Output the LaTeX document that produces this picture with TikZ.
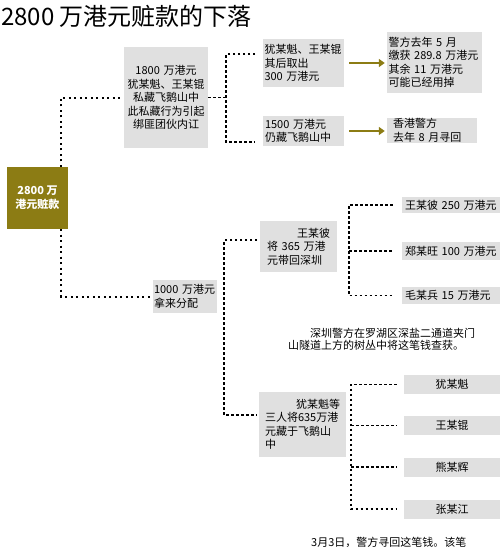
\documentclass[tikz,border=0pt]{standalone}
\usepackage{fontspec}
\setmainfont{Noto Sans CJK SC}
\usepackage{xcolor}
\usetikzlibrary{arrows.meta, positioning, calc}
\definecolor{olivebrown}{RGB}{140,124,20}
\definecolor{boxgray}{RGB}{224,224,224}
\tikzset{
  gbox/.style={fill=boxgray, inner xsep=2pt, inner ysep=1pt, font=\fontsize{11}{13.5}\selectfont},
  link/.style={line width=1.4pt, dash pattern=on 2.5pt off 2.5pt},
  srclink/.style={line width=2pt, dash pattern=on 2pt off 3.5pt},
  goldarrow/.style={olivebrown, line width=2.2pt, -{Triangle[length=6pt,width=8pt]}},
}
\begin{document}
\begin{tikzpicture}[x=1pt, y=-1pt]
  \useasboundingbox (0,0) rectangle (500,547);
  % title
  \node[anchor=west, inner sep=0pt, font=\fontsize{24}{26}\selectfont] (title) at (1,16) {2800 万港元赃款的下落};
  % source box
  \node[fill=olivebrown, text=white, font=\fontsize{11}{14}\selectfont\bfseries, align=center,
        minimum width=61pt, minimum height=62pt, inner sep=0pt] (src) at (37.5,198) {2800 万\\港元赃款};
  % upper branch (1800)
  \node[gbox, align=center, text width=80pt, minimum height=101pt] (b1800) at (166,97.5)
    {1800 万港元\\犹某魁、王某锟\\私藏飞鹅山中\\此私藏行为引起\\绑匪团伙内讧};
  \node[gbox, align=left, text width=78pt, inner xsep=1.5pt, minimum height=48pt] (b300) at (303.5,63)
    {犹某魁、王某锟\\其后取出\\300 万港元};
  \node[gbox, align=left, text width=92pt, inner xsep=1.5pt, minimum height=61pt] (bseized) at (434.5,62.5)
    {警方去年 5 月\\缴获 289.8 万港元\\其余 11 万港元\\可能已经用掉};
  \node[gbox, align=left, text width=77pt, minimum height=30pt] (b1500) at (303.5,131)
    {1500 万港元\\仍藏飞鹅山中};
  \node[gbox, align=left, inner xsep=6pt, text width=78pt, minimum height=25pt] (bhk) at (432,130.5)
    {香港警方\\去年 8 月寻回};
  \draw[goldarrow] ([xshift=5pt]b300.east) -- ([xshift=-2pt]bseized.west |- b300.east);
  \draw[goldarrow] ([xshift=5pt]b1500.east) -- ([xshift=-2pt]bhk.west |- b1500.east);
  % lower branch (1000)
  \node[gbox, align=left, inner xsep=1pt, text width=62pt, minimum height=33pt] (b1000) at (185,296.5)
    {1000 万港元\\拿来分配};
  \node[gbox, align=left, inner xsep=7pt, text width=63pt, minimum height=51pt] (b365) at (298.5,246.5)
    {\hfill 王某彼\\将 365 万港\\元带回深圳};
  \foreach \nm/\y/\h/\txt in {p250/205/16/王某彼 250 万港元, p100/251/18/郑某旺 100 万港元, p15/295.5/17/毛某兵 15 万港元}
    \node[gbox, align=left, inner xsep=3pt, text width=92pt, minimum height=\h pt] (\nm) at (451,\y) {\txt};
  \node[gbox, align=left, inner xsep=6pt, text width=75pt, minimum height=65pt] (b635) at (302.5,424.5)
    {\hfill 犹某魁等\\三人将635万港\\元藏于飞鹅山\\中};
  \foreach \nm/\y/\txt in {n1/384.5/犹某魁, n2/425.5/王某锟, n3/467/熊某辉, n4/509/张某江}
    \node[gbox, minimum width=96pt, minimum height=19pt] (\nm) at (452,\y) {\txt};
  % notes
  \node[anchor=north west, align=left, inner sep=0pt, font=\fontsize{11}{11.5}\selectfont] (note) at (288,328)
    {\hspace*{22pt}深圳警方在罗湖区深盐二通道夹门\\山隧道上方的树丛中将这笔钱查获。};
  \node[anchor=west, inner sep=0pt, font=\fontsize{11}{13}\selectfont] (tail) at (311,542) {3月3日，警方寻回这笔钱。该笔};
  % connectors
  \draw[srclink] ([xshift=-7pt]src.north east) |- (b1800.west);
  \draw[srclink] ([xshift=-7pt]src.south east) |- (b1000.west);
  \coordinate (j1) at (226,97.5);
  \coordinate (t300) at (255,54);
  \coordinate (t1500) at (255,142);
  \draw[link] (b1800.east) -- (j1);
  \draw[link] (t300) -| (j1) |- (t1500);
  \coordinate (t365) at (257,240);
  \coordinate (j2) at (224,415);
  \coordinate (t635) at (257,415);
  \draw[link] (t365) -| (j2) -- (t635);
  \coordinate (k1) at (349,0);
  \draw[link] ([xshift=-9pt]p250.west) -| (k1 |- p15.west) -- ([xshift=-9pt]p15.west);
  \draw[link] (k1 |- p100.west) -- ([xshift=-9pt]p100.west);
  \coordinate (k2) at (351,0);
  \draw[link] ([xshift=-7pt]n1.west) -| (k2 |- n4.west) -- ([xshift=-7pt]n4.west);
  \foreach \nm in {n2,n3}
    \draw[link] (k2 |- \nm.west) -- ([xshift=-7pt]\nm.west);
\end{tikzpicture}
\end{document}
